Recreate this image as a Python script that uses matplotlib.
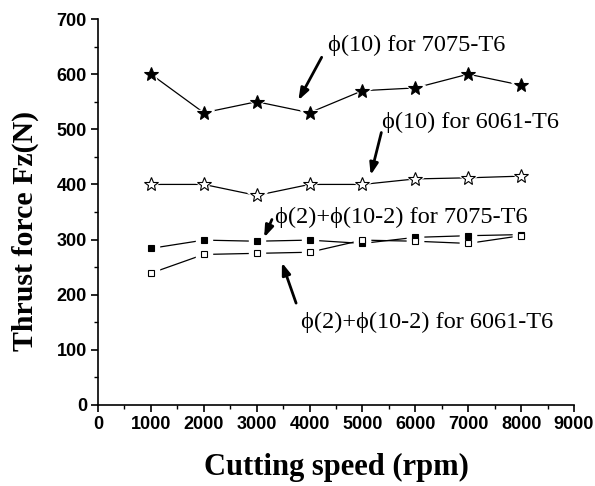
import matplotlib.pyplot as plt
from matplotlib.ticker import MultipleLocator

speed = [1000, 2000, 3000, 4000, 5000, 6000, 7000, 8000]
f10_7075 = [600, 530, 550, 530, 570, 575, 600, 580]
f10_6061 = [400, 400, 380, 400, 400, 410, 412, 415]
f2_7075 = [284, 299, 297, 299, 293, 304, 307, 309]
f2_6061 = [239, 273, 275, 277, 299, 297, 293, 307]

serif = ["Liberation Serif", "DejaVu Serif"]
sans = "Liberation Sans"

fig = plt.figure(figsize=(5.95, 4.86), dpi=100)
ax = fig.add_axes([0.1647, 0.1667, 0.8, 0.7942])

series = [
    (f10_7075, "*", 10.5, "black", 4),
    (f10_6061, "*", 10.5, "white", 4),
    (f2_7075, "s", 4.5, "black", 7),
    (f2_6061, "s", 4.5, "white", 7),
]
for y, m, ms, fc, pad in series:
    ax.plot(speed, y, color="black", lw=0.9, zorder=1)
for y, m, ms, fc, pad in series:
    # white halo so the line stops short of the marker
    ax.plot(speed, y, ls="none", marker=m, ms=ms + pad, mfc="white", mec="white", zorder=2)
for y, m, ms, fc, pad in series:
    ax.plot(speed, y, ls="none", marker=m, ms=ms, mfc=fc, mec="black", mew=0.8, zorder=3)

ax.set_xlim(0, 9000)
ax.set_ylim(0, 700)
ax.xaxis.set_major_locator(MultipleLocator(1000))
ax.xaxis.set_minor_locator(MultipleLocator(500))
ax.yaxis.set_major_locator(MultipleLocator(100))
ax.yaxis.set_minor_locator(MultipleLocator(50))
ax.spines["top"].set_visible(False)
ax.spines["right"].set_visible(False)
ax.spines["left"].set_linewidth(1.2)
ax.spines["bottom"].set_linewidth(1.2)
ax.tick_params(which="major", direction="out", length=5, width=1.2, pad=3)
ax.tick_params(which="minor", direction="out", length=3, width=1)
for lab in ax.get_xticklabels() + ax.get_yticklabels():
    lab.set_fontfamily(sans)
    lab.set_fontweight("bold")
    lab.set_fontsize(13)

ax.set_xlabel("Cutting speed (rpm)", fontfamily=serif, fontweight="bold", fontsize=22)
ax.set_ylabel("Thrust force Fz(N)", fontfamily=serif, fontweight="bold", fontsize=21.5)
ax.xaxis.set_label_coords(0.5, -0.125)
ax.yaxis.set_label_coords(-0.124, 0.45)

arrow = dict(arrowstyle="-|>,head_length=0.7,head_width=0.25", color="black", lw=2)
notes = [
    ("ϕ(10) for 7075-T6", (4349, 653), (4254, 635), (3763, 548)),
    ("ϕ(10) for 6061-T6", (5370, 513), (5370, 499), (5143, 412)),
    ("ϕ(2)+ϕ(10-2) for 7075-T6", (3347, 341), (3309, 341), (3120, 299)),
    ("ϕ(2)+ϕ(10-2) for 6061-T6", (3838, 149), (3763, 180), (3460, 263)),
]
for text, tpos, tail, head in notes:
    ax.text(tpos[0], tpos[1], text, fontfamily=serif, fontsize=17.5, va="center", ha="left")
    ax.annotate("", xy=head, xytext=tail, arrowprops=arrow)

fig.savefig("out.png", dpi=100)
